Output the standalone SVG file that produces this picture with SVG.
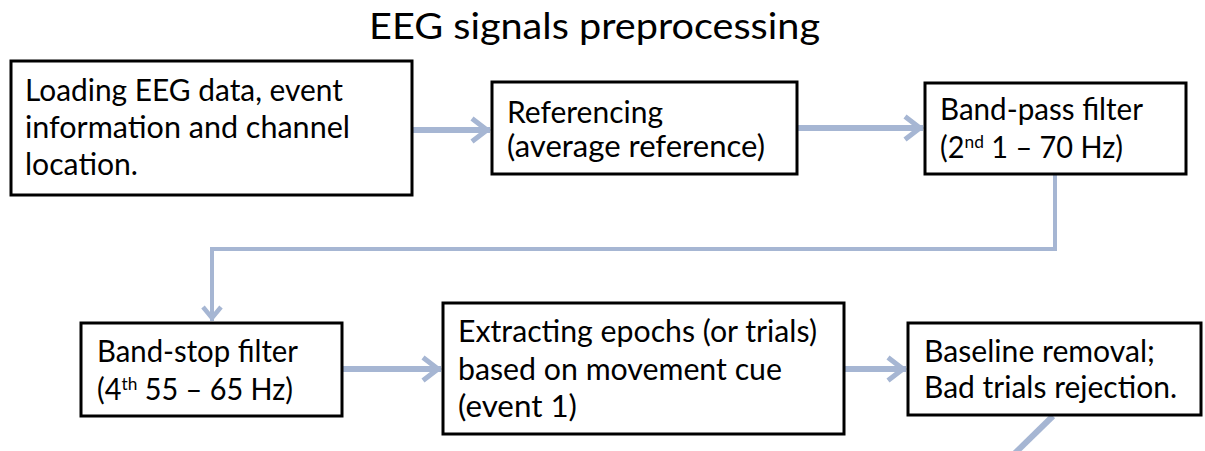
<svg xmlns="http://www.w3.org/2000/svg" width="1205" height="451" viewBox="0 0 1205 451">
<style>
.box{fill:#fff;stroke:#000;stroke-width:3}
.t{font-family:Lato,"Liberation Sans",sans-serif;font-size:30px;fill:#000}
.title{font-size:37px}
.c{fill:none;stroke:#a6b6d3;stroke-width:6}
.c2{stroke-width:4}
.head{fill:none;stroke:#a6b6d3;stroke-linejoin:miter;stroke-linecap:butt}
</style>
<defs>
<marker id="ah" markerUnits="userSpaceOnUse" markerWidth="26" markerHeight="28" refX="22" refY="14" orient="auto">
<path class="head" d="M4,2.5 L19,14 L4,25.5" stroke-width="5"/>
</marker>
<marker id="ah2" markerUnits="userSpaceOnUse" markerWidth="20" markerHeight="22" refX="17" refY="11" orient="auto">
<path class="head" d="M3,2 L14,11 L3,20" stroke-width="4.5"/>
</marker>
</defs>
<rect width="1205" height="451" fill="#fff"/>
<text class="t title" x="369" y="39" textLength="451" lengthAdjust="spacingAndGlyphs">EEG signals preprocessing</text>
<g id="connectors">
<path class="c" d="M412,130 H490" marker-end="url(#ah)"/>
<path class="c" d="M797,128 H923" marker-end="url(#ah)"/>
<path class="c c2" d="M1055,175 V249 H212 V321" marker-end="url(#ah2)"/>
<path class="c" d="M342,369 H441" marker-end="url(#ah)"/>
<path class="c" d="M844,369 H906" marker-end="url(#ah)"/>
<path class="c" d="M1053,416 L1010,458"/>
</g>
<g id="load">
<rect class="box" x="11" y="61" width="401" height="134"/>
<text class="t" x="25" y="101" textLength="318" lengthAdjust="spacingAndGlyphs">Loading EEG data, event</text>
<text class="t" x="25" y="138" textLength="325" lengthAdjust="spacingAndGlyphs">information and channel</text>
<text class="t" x="25" y="175" textLength="113" lengthAdjust="spacingAndGlyphs">location.</text>
</g>
<g id="ref">
<rect class="box" x="492" y="82" width="305" height="92"/>
<text class="t" x="507" y="123" textLength="156" lengthAdjust="spacingAndGlyphs">Referencing</text>
<text class="t" x="507" y="157" textLength="258" lengthAdjust="spacingAndGlyphs">(average reference)</text>
</g>
<g id="bandpass">
<rect class="box" x="925" y="83" width="261" height="91"/>
<text class="t" x="940" y="120" textLength="203" lengthAdjust="spacingAndGlyphs">Band-pass filter</text>
<text class="t" x="940" y="158" textLength="183" lengthAdjust="spacingAndGlyphs">(2<tspan font-size="18" dy="-10">nd</tspan><tspan dy="10"> 1 – 70 Hz)</tspan></text>
</g>
<g id="bandstop">
<rect class="box" x="81" y="323" width="261" height="93"/>
<text class="t" x="97" y="362" textLength="201" lengthAdjust="spacingAndGlyphs">Band-stop filter</text>
<text class="t" x="97" y="400" textLength="196" lengthAdjust="spacingAndGlyphs">(4<tspan font-size="18" dy="-10">th</tspan><tspan dy="10"> 55 – 65 Hz)</tspan></text>
</g>
<g id="epochs">
<rect class="box" x="443" y="303" width="401" height="131"/>
<text class="t" x="458" y="342" textLength="359" lengthAdjust="spacingAndGlyphs">Extracting epochs (or trials)</text>
<text class="t" x="458" y="380" textLength="324" lengthAdjust="spacingAndGlyphs">based on movement cue</text>
<text class="t" x="458" y="417" textLength="119" lengthAdjust="spacingAndGlyphs">(event 1)</text>
</g>
<g id="baseline">
<rect class="box" x="908" y="323" width="293" height="92"/>
<text class="t" x="924" y="362" textLength="231" lengthAdjust="spacingAndGlyphs">Baseline removal;</text>
<text class="t" x="924" y="398" textLength="253" lengthAdjust="spacingAndGlyphs">Bad trials rejection.</text>
</g>
</svg>
